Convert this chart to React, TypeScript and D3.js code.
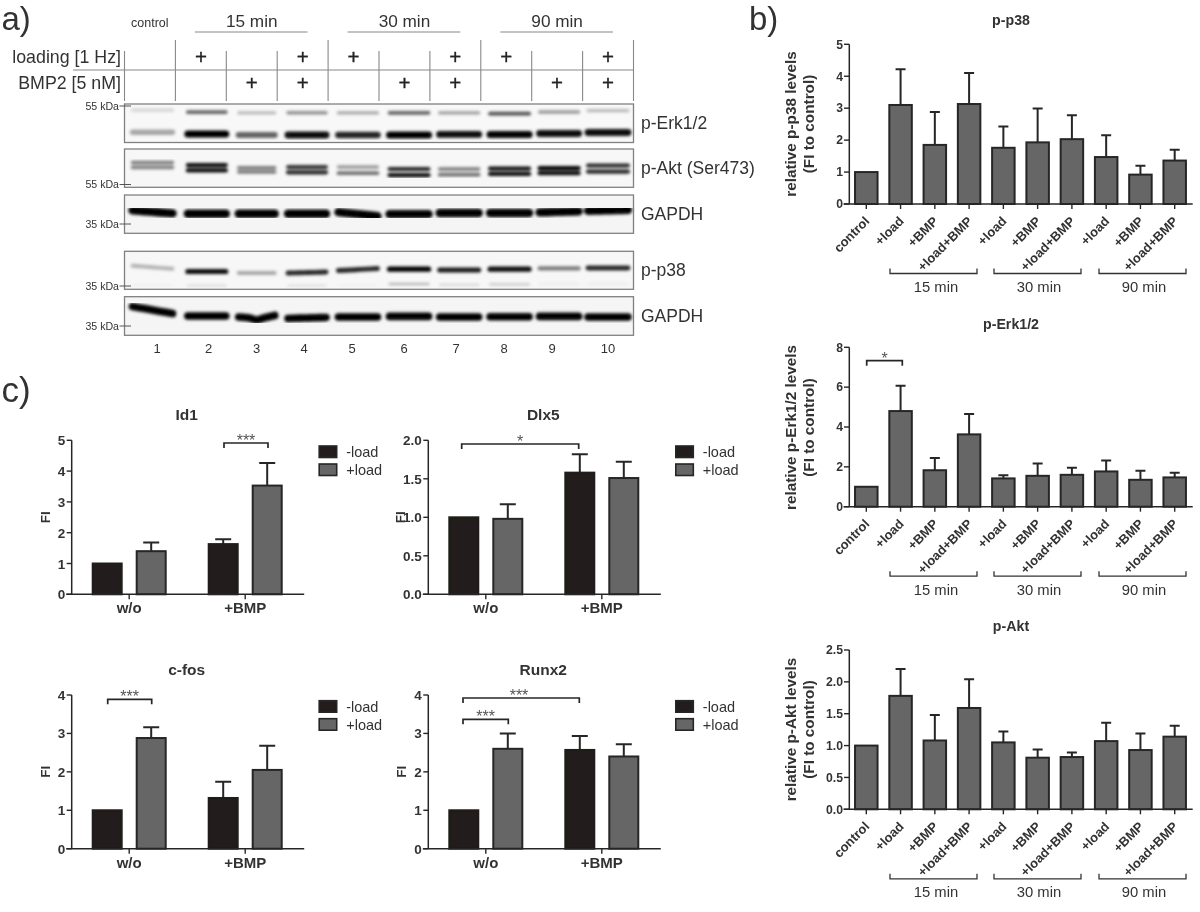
import React from "react";
import * as d3 from "d3";

// ---------- data ----------
const lanes = [1, 2, 3, 4, 5, 6, 7, 8, 9, 10];
const loadingLanes = [2, 4, 5, 7, 8, 10];
const bmpLanes = [3, 4, 6, 7, 9, 10];
const timeLabels = ["15 min", "30 min", "90 min"];

const erkUpperMig = [0.16, 0.21, 0.23, 0.23, 0.23, 0.23, 0.23, 0.25, 0.21, 0.17];
const erkUpperInt = [0.15, 0.6, 0.25, 0.42, 0.32, 0.6, 0.36, 0.68, 0.38, 0.25];
const erkLowerMig = [0.735, 0.78, 0.805, 0.805, 0.805, 0.805, 0.79, 0.79, 0.765, 0.74];
const erkLowerInt = [0.33, 1, 0.6, 0.95, 0.85, 1, 0.95, 1, 0.95, 0.95];
const aktUpperMig = [0.35, 0.42, 0.49, 0.47, 0.47, 0.52, 0.52, 0.51, 0.5, 0.43];
const aktUpperInt = [0.5, 0.95, 0.5, 0.8, 0.38, 0.85, 0.5, 0.95, 1, 0.85];
const aktLowerMig = [0.48, 0.56, 0.6, 0.61, 0.63, 0.68, 0.67, 0.65, 0.63, 0.59];
const aktLowerInt = [0.48, 0.95, 0.5, 0.85, 0.55, 0.95, 0.55, 0.95, 0.95, 0.85];
const gapdh1Mig = [0.44, 0.49, 0.49, 0.49, 0.5, 0.5, 0.47, 0.47, 0.44, 0.4];
const gapdh1Int = [1, 1, 1, 1, 1, 1, 1, 1, 1, 1];
const gapdh1Tilt = [3, 0, 0, 0, 4, 0, 0, 0, -1, -1];
const p38Mig = [0.42, 0.53, 0.57, 0.56, 0.48, 0.47, 0.49, 0.47, 0.45, 0.44];
const p38Int = [0.28, 0.95, 0.32, 0.85, 0.85, 1, 0.9, 0.95, 0.5, 0.85];
const p38Tilt = [3, 0, 0, -1, -2, 0, 0, 0, 0, 0];
const p38LowerMig = [0.88, 0.9, 0.9, 0.9, 0.88, 0.86, 0.88, 0.87, 0.86, 0.86];
const p38LowerInt = [0.04, 0.12, 0, 0.1, 0.04, 0.3, 0.15, 0.25, 0.06, 0.06];
const gapdh2Mig = [0.345, 0.5, 0.525, 0.55, 0.525, 0.51, 0.525, 0.52, 0.51, 0.525];
const gapdh2Int = [1, 1, 1, 1, 1, 1, 1, 1, 1, 1];
const gapdh2Tilt = [7, 0, 0, -1, 0, 0, 0, 0, 0, 0];
const gapdh2Dip = [0, 0, 3, 0, 0, 0, 0, 0, 0, 0];
const noValues = [0, 0, 0, 0, 0, 0, 0, 0, 0, 0];

const timeBars = ["control", "+load", "+BMP", "+load+BMP", "+load", "+BMP", "+load+BMP", "+load", "+BMP", "+load+BMP"];
const p38Means = [1, 3.1, 1.85, 3.13, 1.76, 1.93, 2.03, 1.47, 0.92, 1.36];
const p38Tops = [1, 4.22, 2.88, 4.1, 2.43, 2.99, 2.78, 2.15, 1.2, 1.7];
const erkMeans = [1, 4.8, 1.83, 3.63, 1.42, 1.55, 1.6, 1.77, 1.35, 1.47];
const erkTops = [1, 6.07, 2.45, 4.65, 1.58, 2.17, 1.95, 2.32, 1.8, 1.7];
const aktMeans = [1, 1.78, 1.08, 1.59, 1.05, 0.81, 0.82, 1.07, 0.93, 1.14];
const aktTops = [1, 2.2, 1.48, 2.04, 1.22, 0.94, 0.89, 1.36, 1.19, 1.31];

const geneGroups = ["w/o", "+BMP"];
const legendKeys = ["-load", "+load"];
const id1Means = [1, 1.4, 1.63, 3.53];
const id1Tops = [1, 1.68, 1.79, 4.26];
const dlx5Means = [1, 0.98, 1.58, 1.51];
const dlx5Tops = [1, 1.17, 1.82, 1.72];
const cfosMeans = [1, 2.88, 1.32, 2.05];
const cfosTops = [1, 3.16, 1.74, 2.68];
const runx2Means = [1, 2.6, 2.57, 2.4];
const runx2Tops = [1, 3.0, 2.93, 2.72];

// ---------- layout & style ----------
const FONT = "'Liberation Sans', Arial, sans-serif";
const INK = "#262626";
const TXT = "#333333";
const BAR_GRAY = "#666666";
const BAR_DARK = "#201e1a";

const laneLine = d3.scaleLinear().domain([0, 10]).range([124.5, 633.5]);
const bandPos = d3.scalePoint<number>().domain(lanes).range([152.5, 608]);
const plusPos = d3.scalePoint<number>().domain(lanes).range([150, 608]);
const laneDrift = [0, 3.7, 3, 2.7, 3, 3.5, 3, 2.8, 1.7, 0];
const laneWidth = [40, 38, 36, 38, 39, 39, 39, 39, 39, 40];
const laneNumberX = [157, 208.5, 256.5, 304, 352, 404, 456, 504, 552, 608];

type Band = { mig: number[]; int: number[]; thick: number; tilt?: number[]; dip?: number[] };
type Blot = { top: number; bottom: number; bg: string; label: string; kda: string; kdaY: number; bands: Band[] };

const blots: Blot[] = [
  {
    top: 104, bottom: 142.5, bg: "#f8f8f8", label: "p-Erk1/2", kda: "55 kDa", kdaY: 106,
    bands: [
      { mig: erkUpperMig, int: erkUpperInt, thick: 4.4 },
      { mig: erkLowerMig, int: erkLowerInt, thick: 7 },
    ],
  },
  {
    top: 149, bottom: 187.3, bg: "#f7f7f7", label: "p-Akt (Ser473)", kda: "55 kDa", kdaY: 184.5,
    bands: [
      { mig: aktUpperMig, int: aktUpperInt, thick: 4.2 },
      { mig: aktLowerMig, int: aktLowerInt, thick: 4.4 },
    ],
  },
  {
    top: 195, bottom: 233.3, bg: "#f5f5f5", label: "GAPDH", kda: "35 kDa", kdaY: 224,
    bands: [{ mig: gapdh1Mig, int: gapdh1Int, thick: 8.4, tilt: gapdh1Tilt }],
  },
  {
    top: 251.3, bottom: 289.3, bg: "#f7f7f7", label: "p-p38", kda: "35 kDa", kdaY: 286,
    bands: [
      { mig: p38Mig, int: p38Int, thick: 5.2, tilt: p38Tilt },
      { mig: p38LowerMig, int: p38LowerInt, thick: 2.6 },
    ],
  },
  {
    top: 296.7, bottom: 335.3, bg: "#f5f5f5", label: "GAPDH", kda: "35 kDa", kdaY: 326,
    bands: [{ mig: gapdh2Mig, int: gapdh2Int, thick: 7.6, tilt: gapdh2Tilt, dip: gapdh2Dip }],
  },
];

const bandCurve = d3.line<[number, number]>().x((d) => d[0]).y((d) => d[1]).curve(d3.curveCatmullRom);

function WesternPanel() {
  return (
    <g fontFamily={FONT}>
      <text x={1.5} y={30} fontSize={33} fill={TXT}>a)</text>
      <text x={131} y={27} fontSize={12.5} fill={TXT}>control</text>
      {timeLabels.map((t, i) => {
        const a = laneLine(1 + i * 3);
        const b = laneLine(4 + i * 3);
        const x0 = a + 19.5;
        const x1 = b - 20.5;
        return (
          <g key={t}>
            <text x={(x0 + x1) / 2 + 0.5} y={27} fontSize={17.2} fill={TXT} textAnchor="middle">{t}</text>
            <line x1={x0} x2={x1} y1={32} y2={32} stroke="#888" strokeWidth={1.2} />
          </g>
        );
      })}
      <text x={121} y={63} fontSize={17.8} fill={TXT} textAnchor="end">loading [1 Hz]</text>
      <text x={121} y={88.5} fontSize={17.8} fill={TXT} textAnchor="end">BMP2 [5 nM]</text>
      <line x1={73} x2={633.5} y1={70} y2={70} stroke="#888" strokeWidth={1.1} />
      {d3.range(0, 11).map((i) => (
        <line key={i} x1={laneLine(i)} x2={laneLine(i)} y1={i === 0 ? 51 : (i - 1) % 3 === 0 ? 40 : 51} y2={101} stroke="#888" strokeWidth={1.1} />
      ))}
      {loadingLanes.map((l) => (
        <text key={l} x={plusPos(l)} y={64} fontSize={20.5} fill="#222" stroke="#222" strokeWidth={0.35} textAnchor="middle">+</text>
      ))}
      {bmpLanes.map((l) => (
        <text key={l} x={plusPos(l)} y={89.5} fontSize={20.5} fill="#222" stroke="#222" strokeWidth={0.35} textAnchor="middle">+</text>
      ))}
      {blots.map((b, bi) => {
        const y = d3.scaleLinear().domain([0, 1]).range([b.top, b.bottom]);
        return (
          <g key={bi}>
            <rect x={124.5} y={b.top} width={509} height={b.bottom - b.top} fill={b.bg} />
            <g filter="url(#bandBlur)">
              {b.bands.map((band, j) =>
                lanes.map((l, i) => {
                  if (band.int[i] === 0) return null;
                  const cx = (bandPos(l) as number) + laneDrift[i];
                  const w = laneWidth[i];
                  const cy = y(band.mig[i]);
                  const tilt = (band.tilt ?? noValues)[i];
                  const dip = (band.dip ?? noValues)[i];
                  const d = bandCurve([
                    [cx - w / 2, cy - tilt / 2],
                    [cx - w / 5, cy - tilt / 5 + dip / 3],
                    [cx, cy + dip],
                    [cx + w / 5, cy + tilt / 5 + dip / 3],
                    [cx + w / 2, cy + tilt / 2 - dip / 2],
                  ]);
                  return (
                    <path
                      key={j + "-" + l}
                      d={d ?? ""}
                      fill="none"
                      stroke="#000"
                      strokeLinecap="round"
                      strokeWidth={band.thick * (0.65 + 0.35 * band.int[i])}
                      strokeOpacity={band.int[i]}
                    />
                  );
                })
              )}
            </g>
            <rect x={124.5} y={b.top} width={509} height={b.bottom - b.top} fill="none" stroke="#808080" strokeWidth={1.3} />
            <text x={641} y={(b.top + b.bottom) / 2 + 6} fontSize={17.5} fill={TXT}>{b.label}</text>
            <text x={119} y={b.kdaY + 3.5} fontSize={10.6} fill={TXT} textAnchor="end">{b.kda}</text>
            <line x1={119.5} x2={131} y1={b.kdaY} y2={b.kdaY} stroke="#555" strokeWidth={1} />
          </g>
        );
      })}
      {lanes.map((l, i) => (
        <text key={l} x={laneNumberX[i]} y={352.5} fontSize={13} fill={TXT} textAnchor="middle">{l}</text>
      ))}
    </g>
  );
}

type Sig = { x0: number; x1: number; y: number; label: string; tx?: number };
function SigBracket({ s }: { s: Sig }) {
  const tx = s.tx ?? (s.x0 + s.x1) / 2;
  return (
    <g>
      <path d={`M${s.x0},${s.y + 5}V${s.y}H${s.x1}V${s.y + 5}`} fill="none" stroke={INK} strokeWidth={1.7} />
      <text x={tx} y={s.y + 3} fontSize={16} fill="#555" textAnchor="middle">{s.label}</text>
    </g>
  );
}

type TimeProps = {
  title: string; titleY: number; yLabel: string; labelCy: number;
  top: number; bottom: number; max: number; tickCount: number; fmt: string;
  means: number[]; tops: number[]; sig?: Sig[];
};

function TimeChart(p: TimeProps) {
  const y = d3.scaleLinear().domain([0, p.max]).range([p.bottom, p.top]);
  const x = d3.scalePoint<number>().domain(d3.range(timeBars.length)).range([866.3, 1174.7]);
  const f = d3.format(p.fmt);
  const bw = 22.5;
  const groups = [[890, 977], [994, 1081], [1099, 1186]];
  const groupText = [936, 1039, 1144];
  return (
    <g fontFamily={FONT}>
      <text x={1011} y={p.titleY + 5} fontSize={14.2} fontWeight="bold" fill={TXT} textAnchor="middle">{p.title}</text>
      <g transform={`translate(790.5,${p.labelCy}) rotate(-90)`}>
        <text x={0} y={5} fontSize={15.3} fontWeight="bold" fill={TXT} textAnchor="middle">{p.yLabel}</text>
        <text x={0} y={23} fontSize={15.3} fontWeight="bold" fill={TXT} textAnchor="middle">(FI to control)</text>
      </g>
      {p.means.map((m, i) => {
        const cx = x(i) as number;
        return (
          <g key={i}>
            {i > 0 && (
              <path d={`M${cx},${y(m)}V${y(p.tops[i])}M${cx - 5},${y(p.tops[i])}H${cx + 5}`} fill="none" stroke={INK} strokeWidth={2} />
            )}
            <rect x={cx - bw / 2} y={y(m)} width={bw} height={p.bottom - y(m)} fill={BAR_GRAY} stroke={INK} strokeWidth={2} />
            <line x1={cx} x2={cx} y1={p.bottom} y2={p.bottom + 5} stroke={INK} strokeWidth={1.4} />
            <text transform={`translate(${cx + 4},${p.bottom + 18}) rotate(-45)`} fontSize={13} fontWeight="bold" fill={TXT} textAnchor="end">{timeBars[i]}</text>
          </g>
        );
      })}
      <line x1={849.3} x2={849.3} y1={p.top} y2={p.bottom} stroke={INK} strokeWidth={1.5} />
      <line x1={843.5} x2={1192.7} y1={p.bottom} y2={p.bottom} stroke={INK} strokeWidth={1.5} />
      {y.ticks(p.tickCount).map((t) => (
        <g key={t}>
          <line x1={844} x2={849.3} y1={y(t)} y2={y(t)} stroke={INK} strokeWidth={1.4} />
          <text x={843} y={y(t) + 4.3} fontSize={12.2} fontWeight="bold" fill={TXT} textAnchor="end">{f(t)}</text>
        </g>
      ))}
      {groups.map((g, i) => (
        <g key={i}>
          <path d={`M${g[0]},${p.bottom + 64.5}V${p.bottom + 69.5}H${g[1]}V${p.bottom + 64.5}`} fill="none" stroke="#333" strokeWidth={1.3} />
          <text x={groupText[i]} y={p.bottom + 88} fontSize={14.8} fill={TXT} textAnchor="middle">{timeLabels[i]}</text>
        </g>
      ))}
      {p.sig?.map((s, i) => <SigBracket key={i} s={s} />)}
    </g>
  );
}

type GeneProps = {
  title: string; left: number; top: number; bottom: number; max: number; tickCount: number; fmt: string;
  means: number[]; tops: number[]; sig: Sig[]; labelX: number;
};

function GeneChart(p: GeneProps) {
  const y = d3.scaleLinear().domain([0, p.max]).range([p.bottom, p.top]);
  const f = d3.format(p.fmt);
  const xGroup = d3.scalePoint<string>().domain(geneGroups).range([p.left + 57.5, p.left + 173.5]);
  const barX = (i: number) => (xGroup(geneGroups[Math.floor(i / 2)]) as number) + (i % 2 === 0 ? -22 : 22);
  const bw = 30;
  const lx = p.left + 247.5;
  const ly = p.top + 5.7;
  return (
    <g fontFamily={FONT}>
      <text x={p.left + 115} y={p.top - 20} fontSize={15.5} fontWeight="bold" fill={TXT} textAnchor="middle">{p.title}</text>
      <text transform={`translate(${p.labelX},${(p.top + p.bottom) / 2}) rotate(-90)`} fontSize={13.5} fontWeight="bold" fill={TXT} textAnchor="middle">FI</text>
      {p.means.map((m, i) => {
        const cx = barX(i);
        const dark = i % 2 === 0;
        const hasErr = p.tops[i] > m;
        return (
          <g key={i}>
            {hasErr && (
              <path d={`M${cx},${y(m)}V${y(p.tops[i])}M${cx - 8},${y(p.tops[i])}H${cx + 8}`} fill="none" stroke={INK} strokeWidth={2} />
            )}
            <rect x={cx - bw / 2 + 0.5} y={y(m)} width={bw - 1} height={p.bottom - y(m)} fill={dark ? BAR_DARK : BAR_GRAY} stroke={dark ? BAR_DARK : INK} strokeWidth={2} />
          </g>
        );
      })}
      <line x1={p.left} x2={p.left} y1={p.top} y2={p.bottom} stroke={INK} strokeWidth={1.5} />
      <line x1={p.left - 5.5} x2={p.left + 232.5} y1={p.bottom} y2={p.bottom} stroke={INK} strokeWidth={1.5} />
      {y.ticks(p.tickCount).map((t) => (
        <g key={t}>
          <line x1={p.left - 5} x2={p.left} y1={y(t)} y2={y(t)} stroke={INK} strokeWidth={1.4} />
          <text x={p.left - 6.5} y={y(t) + 5} fontSize={13.5} fontWeight="bold" fill={TXT} textAnchor="end">{f(t)}</text>
        </g>
      ))}
      {geneGroups.map((g) => (
        <g key={g}>
          <line x1={xGroup(g)} x2={xGroup(g)} y1={p.bottom} y2={p.bottom + 5} stroke={INK} strokeWidth={1.4} />
          <text x={xGroup(g)} y={p.bottom + 19} fontSize={15} fontWeight="bold" fill={TXT} textAnchor="middle">{g}</text>
        </g>
      ))}
      {legendKeys.map((k, i) => (
        <g key={k}>
          <rect x={lx} y={ly + i * 18} width={17.5} height={11.5} fill={i === 0 ? BAR_DARK : BAR_GRAY} stroke={INK} strokeWidth={1.6} />
          <text x={lx + 27} y={ly + i * 18 + 11} fontSize={14.5} fill={TXT}>{k}</text>
        </g>
      ))}
      {p.sig.map((s, i) => <SigBracket key={i} s={s} />)}
    </g>
  );
}

export default function App() {
  return (
    <svg width={1200} height={912} viewBox="0 0 1200 912" style={{ position: "absolute", left: 0, top: 0, display: "block", background: "#fff" }}>
      <defs>
        <filter id="bandBlur" x="-5%" y="-20%" width="110%" height="140%">
          <feGaussianBlur stdDeviation={1.35} />
        </filter>
        <filter id="softScan" x="0" y="0" width="100%" height="100%">
          <feGaussianBlur stdDeviation={0.4} />
        </filter>
      </defs>
      <g filter="url(#softScan)">
        <rect x={0} y={0} width={1200} height={912} fill="#fff" />
        <WesternPanel />
        <g fontFamily={FONT}>
          <text x={749} y={30} fontSize={33} fill={TXT}>b)</text>
          <text x={1.5} y={402} fontSize={35} fill={TXT}>c)</text>
        </g>
        <TimeChart title="p-p38" titleY={20} yLabel="relative p-p38 levels" labelCy={124} top={44.3} bottom={204} max={5} tickCount={5} fmt="d" means={p38Means} tops={p38Tops} />
        <TimeChart title="p-Erk1/2" titleY={324} yLabel="relative p-Erk1/2 levels" labelCy={427.5} top={347.3} bottom={506.7} max={8} tickCount={4} fmt="d" means={erkMeans} tops={erkTops}
          sig={[{ x0: 866.7, x1: 902.3, y: 360.7, label: "*" }]} />
        <TimeChart title="p-Akt" titleY={626} yLabel="relative p-Akt levels" labelCy={729.5} top={650} bottom={809.3} max={2.5} tickCount={5} fmt=".1f" means={aktMeans} tops={aktTops} />

        <GeneChart title="Id1" left={71.7} top={440.3} bottom={594.3} max={5} tickCount={5} fmt="d" means={id1Means} tops={id1Tops} labelX={49.5}
          sig={[{ x0: 224, x1: 268, y: 443, label: "***" }]} />
        <GeneChart title="Dlx5" left={428.3} top={440.3} bottom={594.3} max={2} tickCount={4} fmt=".1f" means={dlx5Means} tops={dlx5Tops} labelX={404.5}
          sig={[{ x0: 461.7, x1: 578.7, y: 444, label: "*" }]} />
        <GeneChart title="c-fos" left={71.7} top={695} bottom={848.7} max={4} tickCount={4} fmt="d" means={cfosMeans} tops={cfosTops} labelX={49.5}
          sig={[{ x0: 107.7, x1: 151.7, y: 699.3, label: "***" }]} />
        <GeneChart title="Runx2" left={428.3} top={695} bottom={848.7} max={4} tickCount={4} fmt="d" means={runx2Means} tops={runx2Tops} labelX={406}
          sig={[
            { x0: 463, x1: 579.3, y: 698, label: "***", tx: 519 },
            { x0: 463, x1: 508.3, y: 719.3, label: "***" },
          ]} />
      </g>
    </svg>
  );
}
